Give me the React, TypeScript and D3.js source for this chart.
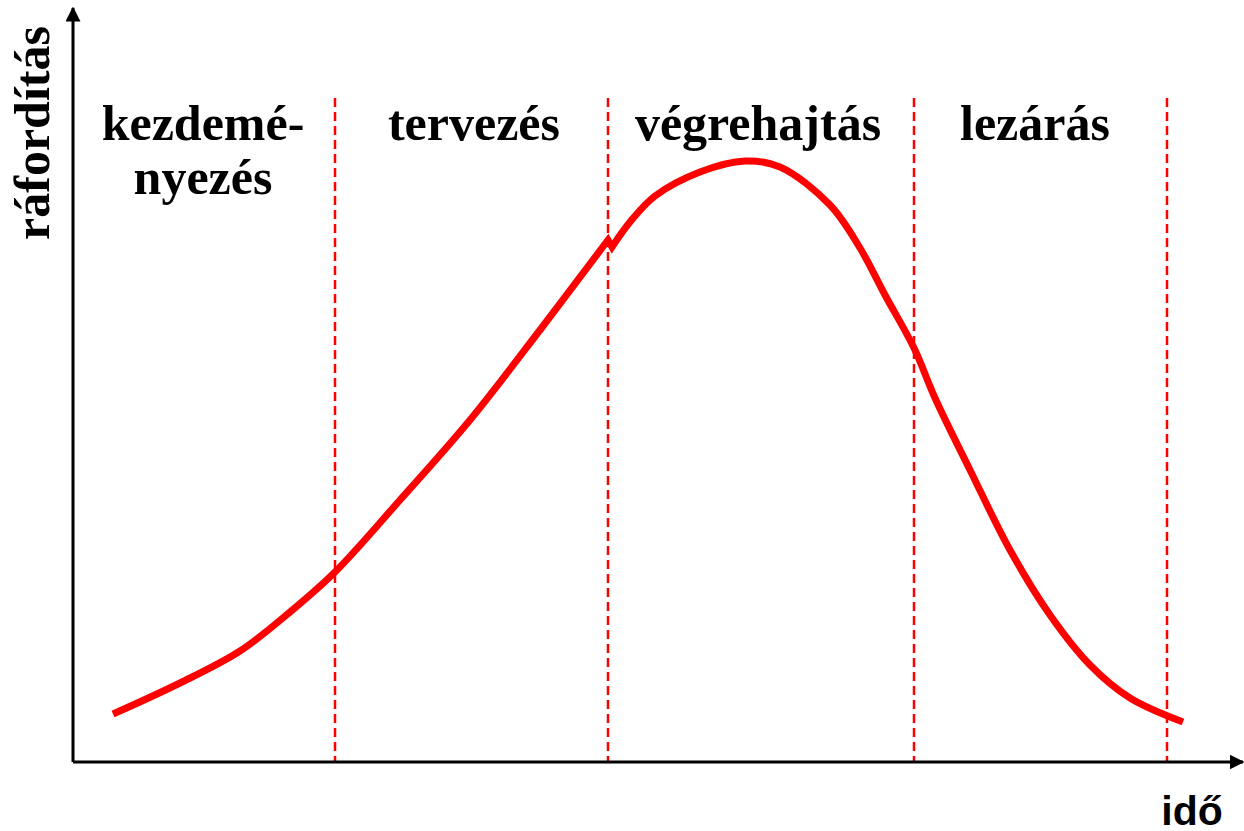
import React from 'react';
import * as d3 from 'd3';

const W = 1244;
const H = 831;

// time (x) and effort (y) values
// the curve has a small notch at the planning / execution boundary
const riseTime = [40, 107, 167, 217, 262, 327, 397, 467, 535];
const riseEffort = [48, 79, 111, 150, 190, 262, 342, 432, 522];
const fallTime = [539, 557, 582, 627, 672, 707, 757, 787, 812, 841, 862, 897, 937, 977, 1017, 1057, 1110];
const fallEffort = [515, 540, 566, 590, 601, 595, 557, 514, 467, 414, 364, 292, 212, 147, 97, 64, 40];
const phaseBounds = [262, 535, 841, 1094];
const phaseLabels = [['kezdemé-', 'nyezés'], ['tervezés'], ['végrehajtás'], ['lezárás']];
const phaseCenters = [130, 401, 685, 962];

const serif = '"Liberation Serif", "Times New Roman", serif';
const sans = '"Liberation Sans", Arial, sans-serif';

const App = () => {
    const x = d3.scaleLinear().domain([0, 1171]).range([73, 1244]);
    const y = d3.scaleLinear().domain([0, 752]).range([762, 10]);

    const line = d3.line<[number, number]>()
        .x(d => x(d[0]))
        .y(d => y(d[1]))
        .curve(d3.curveCatmullRom.alpha(0.5));

    const rise: [number, number][] = riseTime.map((t, i) => [t, riseEffort[i]]);
    const fall: [number, number][] = fallTime.map((t, i) => [t, fallEffort[i]]);
    const curvePath = (line(rise) || '') + (line(fall) || '').replace(/^M/, 'L');

    return (
        <div style={{ position: 'absolute', left: 0, top: 0 }}>
            <svg width={W} height={H} style={{ display: 'block', background: '#fff' }}>
                <defs>
                    <marker id="arr" viewBox="0 0 10 10" refX="9" refY="5" markerWidth="5" markerHeight="5" orient="auto" markerUnits="strokeWidth">
                        <path d="M0,0 L10,5 L0,10 z" fill="#000" />
                    </marker>
                </defs>

                {/* phase separators */}
                {phaseBounds.map(b => (
                    <line key={b} x1={x(b)} x2={x(b)} y1={98} y2={y(0)}
                        stroke="#ff0000" strokeWidth={2.5} strokeDasharray="9,5" />
                ))}

                {/* axes */}
                <line x1={x(0)} y1={y(0)} x2={x(0)} y2={y(752) - 2} stroke="#000" strokeWidth={3} markerEnd="url(#arr)" />
                <line x1={x(0)} y1={y(0)} x2={x(1171) - 1} y2={y(0)} stroke="#000" strokeWidth={3} markerEnd="url(#arr)" />

                {/* effort curve */}
                <path d={curvePath} fill="none" stroke="#ff0000" strokeWidth={7} strokeLinejoin="miter" />

                {/* phase labels */}
                {phaseLabels.map((lines, i) => (
                    <text key={i} x={x(phaseCenters[i])} y={140} textAnchor="middle"
                        fontFamily={serif} fontWeight="bold" fontSize={50} fill="#000">
                        {lines.map((l, j) => (
                            <tspan key={j} x={x(phaseCenters[i])} dy={j === 0 ? 0 : 54}>{l}</tspan>
                        ))}
                    </text>
                ))}

                {/* axis titles */}
                <text transform="translate(49,133) rotate(-90)" textAnchor="middle"
                    fontFamily={serif} fontWeight="bold" fontSize={50} fill="#000">ráfordítás</text>
                <text x={1192} y={825} textAnchor="middle"
                    fontFamily={sans} fontWeight="bold" fontSize={41} fill="#000">idő</text>
            </svg>
        </div>
    );
};

export default App;
